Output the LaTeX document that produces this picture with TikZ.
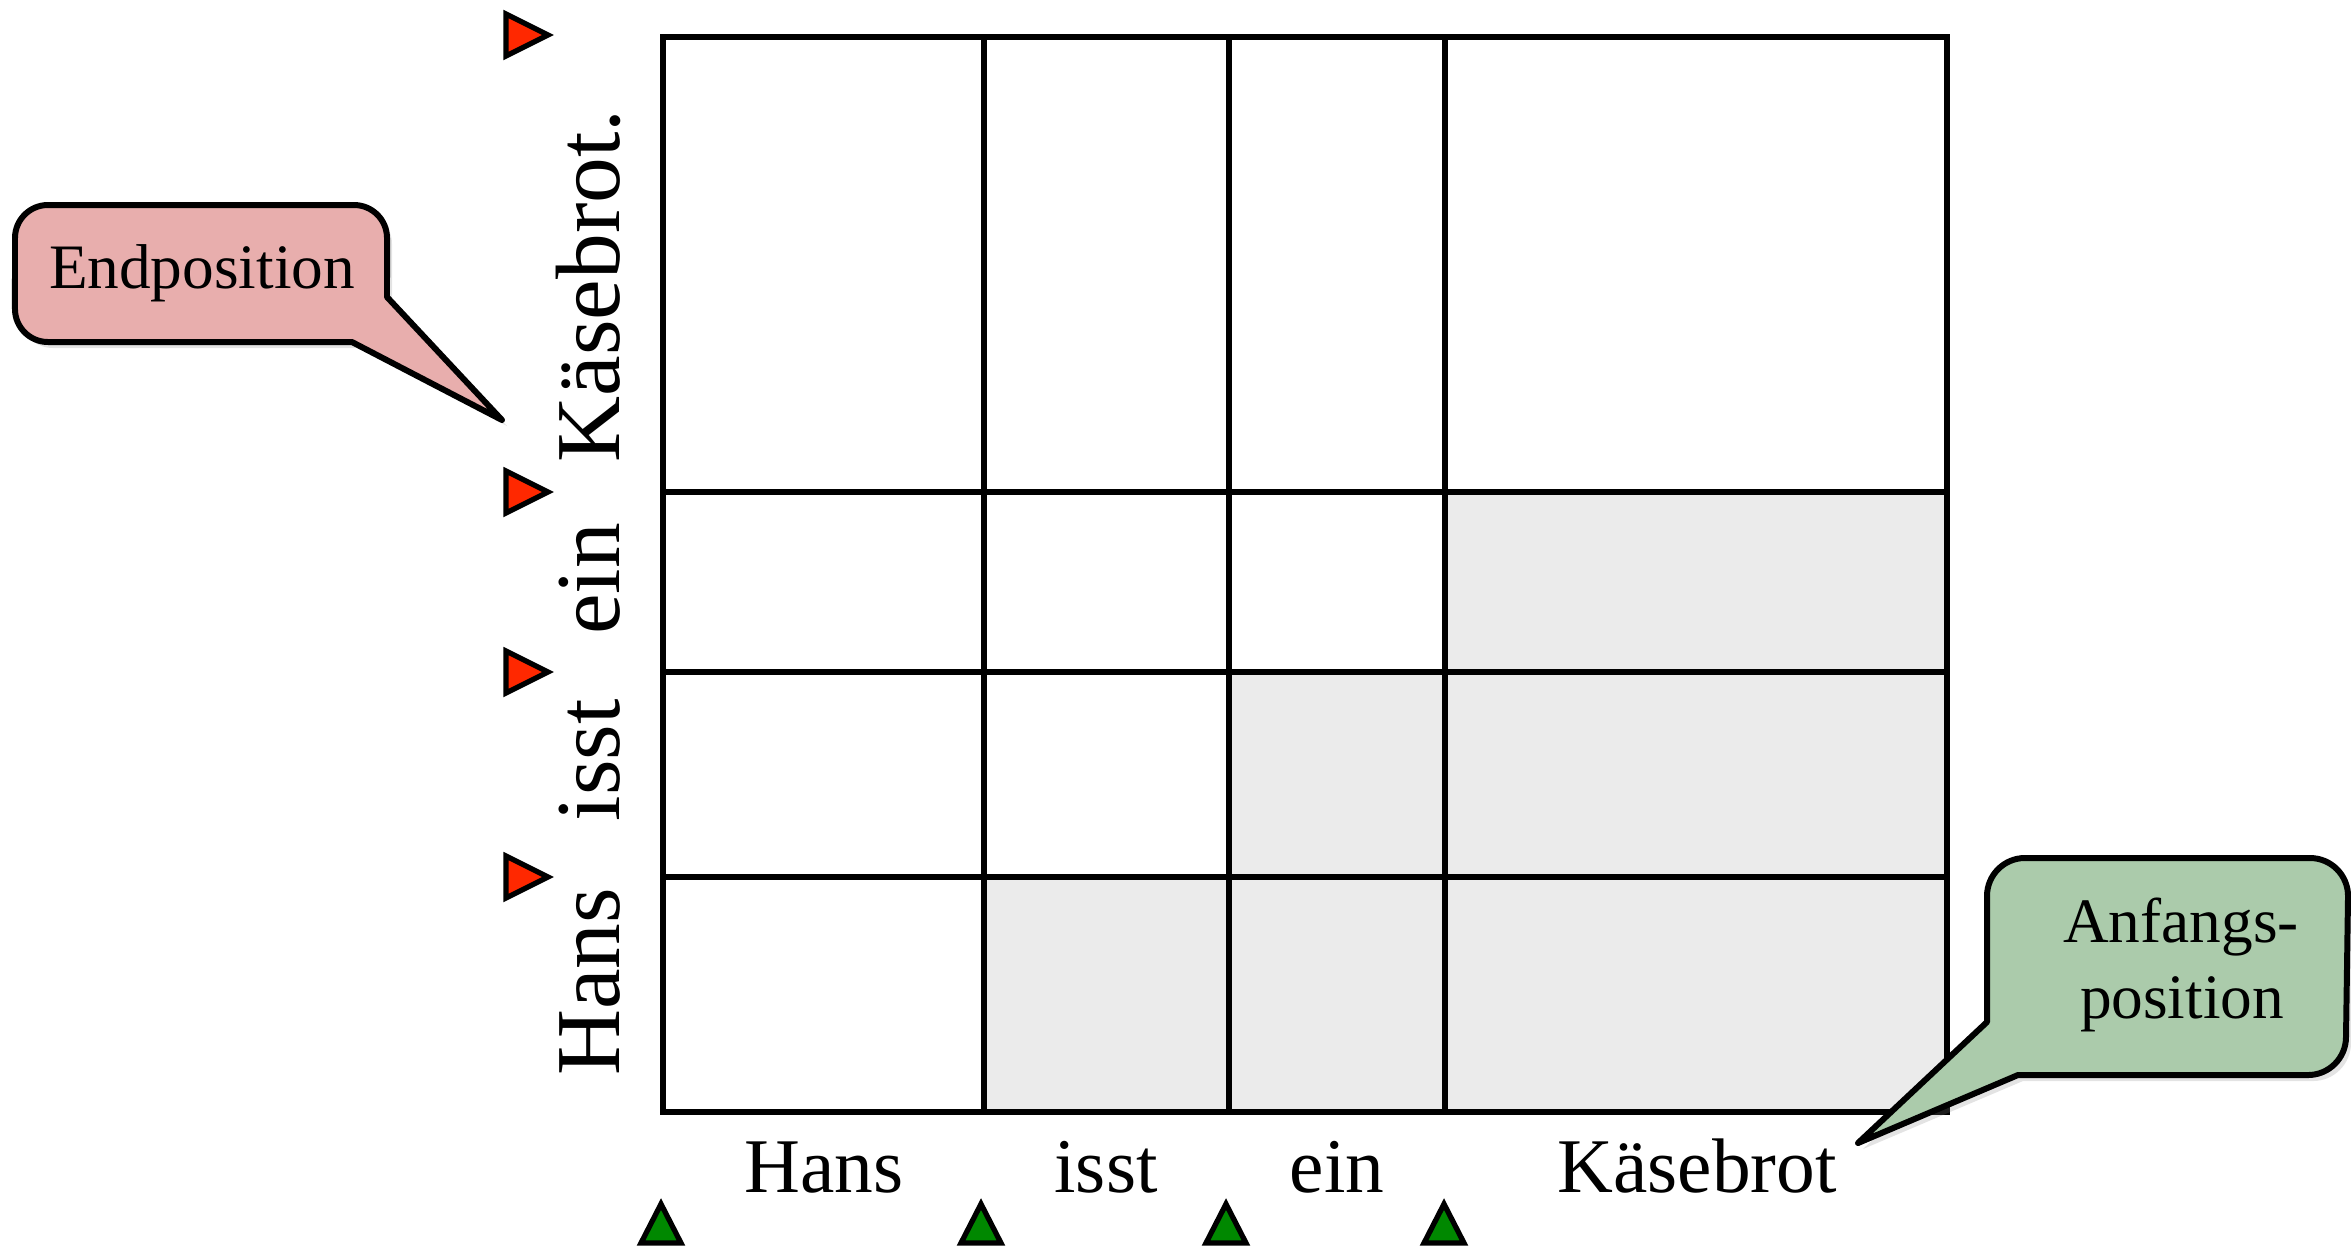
\documentclass[tikz,border=0pt]{standalone}
\usepackage{fontspec}
\setmainfont{Liberation Serif}
\usetikzlibrary{shadows}
\definecolor{endfill}{RGB}{232,174,173}
\definecolor{startfill}{RGB}{171,203,171}
\definecolor{cellgray}{RGB}{235,235,235}
\definecolor{endred}{RGB}{255,40,0}
\definecolor{startgreen}{RGB}{0,136,0}
\begin{document}
\begin{tikzpicture}[x=0.01cm,y=-0.01cm,
  gridline/.style={line width=1.7pt, line cap=rect},
  shadedcell/.style={fill=cellgray},
  endmark/.style={fill=endred, draw=black, line width=1.5pt, line join=miter},
  startmark/.style={fill=startgreen, draw=black, line width=1.5pt, line join=miter},
  vlabel/.style={rotate=90, anchor=base, inner sep=0pt, font=\fontsize{26}{30}\selectfont},
  hlabel/.style={anchor=base, inner sep=0pt, font=\fontsize{22}{26}\selectfont},
  callouttext/.style={anchor=base, inner sep=0pt, font=\fontsize{18}{22}\selectfont},
  callout/.style={draw=black, line width=1.7pt, line join=round,
    drop shadow={shadow xshift=0.05cm, shadow yshift=-0.06cm, opacity=0.22}}]
\useasboundingbox (0,0) rectangle (2351,1250);

% grid corner coordinates
\coordinate (g00) at (663,37);
\coordinate (g11) at (1947,1112);

% shaded cells (upper triangle)
\fill[shadedcell] (984,877) rectangle (1947,1112);
\fill[shadedcell] (1229,672) rectangle (1947,877);
\fill[shadedcell] (1445,492) rectangle (1947,672);

% grid lines
\draw[gridline] (g00) rectangle (g11);
\foreach \x in {984,1229,1445} \draw[gridline] (\x,37) -- (\x,1112);
\foreach \y in {492,672,877} \draw[gridline] (663,\y) -- (1947,\y);

% vertical labels
\node[vlabel] (vHans) at (619,982) {Hans};
\node[vlabel] (vIsst) at (619,760) {isst};
\node[vlabel] (vEin) at (619,579) {ein};
\node[vlabel] (vKase) at (619,286) {Käsebrot.};

% horizontal labels
\node[hlabel] (hHans) at (824,1192) {Hans};
\node[hlabel] (hIsst) at (1106,1192) {isst};
\node[hlabel] (hEin) at (1337,1192) {ein};
\node[hlabel] (hKase) at (1697,1192) {Käsebrot};

% end markers (red, pointing right)
\foreach \y in {35,492,672,877}
  \draw[endmark] (506,\y-21) -- (548,\y) -- (506,\y+21) -- cycle;

% start markers (green, pointing up)
\foreach \x in {661,981,1226,1444}
  \draw[startmark] (\x-20,1243) -- (\x,1204) -- (\x+20,1243) -- cycle;

% callout: Endposition
\coordinate (endtip) at (502,420);
\draw[callout, fill=endfill] (48,205) -- (354,205)
  arc[start angle=90, end angle=0, radius=0.33cm] -- (387,297)
  -- (endtip) -- (352,342) -- (48,342)
  arc[start angle=270, end angle=180, radius=0.33cm] -- (15,238)
  arc[start angle=180, end angle=90, radius=0.33cm] -- cycle;
\node[callouttext] (endlabel) at (202,288) {Endposition};

% callout: Anfangsposition
\coordinate (starttip) at (1858,1143);
\draw[callout, fill=startfill] (2025,858) -- (2310,858)
  arc[start angle=90, end angle=0, radius=0.38cm] -- (2346,1037)
  arc[start angle=0, end angle=-90, radius=0.38cm] -- (2018,1075)
  -- (starttip) -- (1987,1022) -- (1987,896)
  arc[start angle=180, end angle=90, radius=0.38cm] -- cycle;
\node[callouttext] (startlabelA) at (2181,942) {Anfangs-};
\node[callouttext] (startlabelB) at (2182,1018) {position};
\end{tikzpicture}
\end{document}
